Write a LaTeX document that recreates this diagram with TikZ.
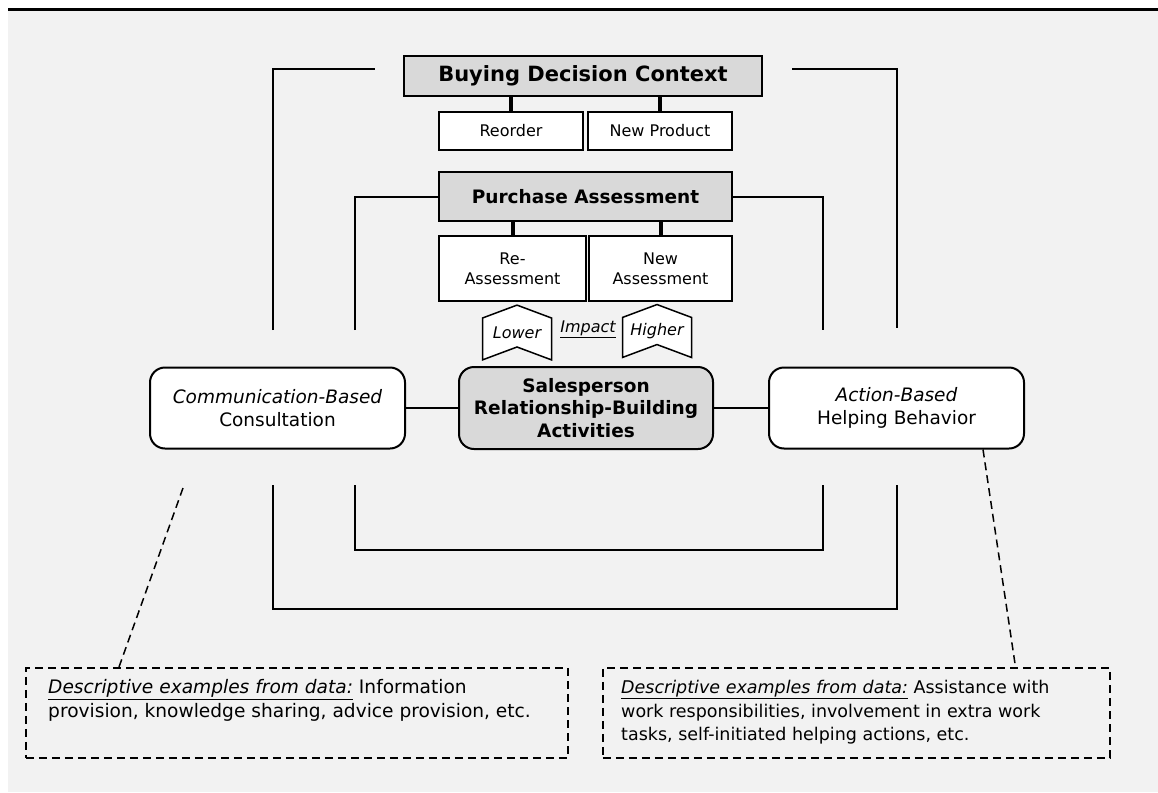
\documentclass[tikz,border=0pt]{standalone}
\usepackage{fontspec}
\setmainfont{DejaVu Sans}
\usetikzlibrary{shapes.symbols, positioning, calc}
\definecolor{pagegray}{RGB}{242,242,242}
\definecolor{boxgray}{RGB}{217,217,217}

\tikzset{
  headbox/.style={draw, line width=2pt, fill=boxgray, inner sep=0pt,
    font=\bfseries\fontsize{18.5}{22}\selectfont},
  subbox/.style={draw, line width=2pt, fill=white, inner sep=0pt, align=center,
    font=\fontsize{16}{20}\selectfont},
  roundbox/.style={draw, line width=2pt, rounded corners=15pt, fill=white, inner sep=0pt,
    align=center, minimum width=255pt, minimum height=81pt,
    font=\fontsize{18.5}{23.5}\selectfont},
  impactsign/.style={signal, signal to=north, signal from=south, signal pointer angle=139,
    draw, line width=1.5pt, fill=white, inner sep=0pt, minimum width=69pt, minimum height=47pt,
    font=\itshape\fontsize{16}{19}\selectfont},
  frameline/.style={line width=2pt},
  stem/.style={line width=4pt},
  noteline/.style={line width=1.5pt, dash pattern=on 8pt off 5pt},
  notebox/.style={draw, line width=1.5pt, dash pattern=on 8pt off 5pt, inner sep=0pt, anchor=north west},
  notetext/.style={inner sep=0pt, anchor=north west, align=left, font=\fontsize{17.5}{23.5}\selectfont}
}

\begin{document}
\begin{tikzpicture}[x=1pt, y=-1pt]
\useasboundingbox (0,0) rectangle (1158,792);
% Page
\fill[white] (0,0) rectangle (1158,792);
\fill[pagegray] (8,11) rectangle (1158,792);
\draw[line width=3.5pt] (8,9.5) -- (1158,9.5);

% Context and assessment boxes
\node[headbox, minimum width=358pt, minimum height=40pt, font=\bfseries\fontsize{21}{25}\selectfont] (bdc) at (583,76) {Buying Decision Context};
\node[subbox, minimum width=144pt, minimum height=38pt] (reorder) at (511,131) {Reorder};
\node[subbox, minimum width=144pt, minimum height=38pt] (newprod) at (660,131) {New Product};
\node[headbox, minimum width=293pt, minimum height=49pt] (pa) at (585.5,196.5) {Purchase Assessment};
\node[subbox, minimum width=147pt, minimum height=65pt] (reassess) at (512.5,268.5) {Re-\\Assessment};
\node[subbox, minimum width=143pt, minimum height=65pt] (newassess) at (660.5,268.5) {New\\Assessment};

\draw[stem] (reorder.north) -- (reorder.north |- bdc.south);
\draw[stem] (newprod.north) -- (newprod.north |- bdc.south);
\draw[stem] (reassess.north) -- (reassess.north |- pa.south);
\draw[stem] (newassess.north) -- (newassess.north |- pa.south);

% Impact
\node[impactsign] (lower) at (517,332.5) {Lower};
\node[impactsign] (higher) at (657,331) {Higher};
\node[font=\itshape\fontsize{16}{19}\selectfont, inner sep=0pt] (impact) at (588,329) {\underline{Impact}};

% Activities
\node[roundbox, fill=boxgray, minimum width=254pt, minimum height=82pt, font=\bfseries\fontsize{18.5}{22.5}\selectfont] (sales) at (586,408) {Salesperson\\Relationship-Building\\Activities};
\node[roundbox] (comm) at (277.5,408) {\textit{Communication-Based}\\Consultation};
\node[roundbox] (action) at (896.5,408) {\textit{Action-Based}\\Helping Behavior};
\draw[frameline] (comm.east) -- (sales.west);
\draw[frameline] (sales.east) -- (action.west);

% Frames
\coordinate (oTL) at (273,330);
\coordinate (oTLend) at (375,69);
\coordinate (oTRend) at (792,69);
\coordinate (oTR) at (897,328);
\coordinate (iTL) at (355,330);
\coordinate (iTR) at (823,330);
\coordinate (oBL) at (273,485);
\coordinate (oBot) at (585,609);
\coordinate (oBR) at (897,485);
\coordinate (iBL) at (355,485);
\coordinate (iBot) at (589,550);
\coordinate (iBR) at (823,485);
\draw[frameline] (oTL) |- (oTLend);
\draw[frameline] (oTRend) -| (oTR);
\draw[frameline] (iTL) |- (pa.west);
\draw[frameline] (pa.east) -| (iTR);
\draw[frameline] (oBL) |- (oBot) -| (oBR);
\draw[frameline] (iBL) |- (iBot) -| (iBR);

% Examples
\node[notebox, minimum width=542pt, minimum height=90pt] (exL) at (25,667) {};
\node[notebox, minimum width=507pt, minimum height=90pt] (exR) at (602,667) {};
\node[notetext, font=\fontsize{18.6}{24}\selectfont] (exLtext) at (48,679.5) {\underline{\textit{Descriptive examples from data:}} Information\\provision, knowledge sharing, advice provision, etc.};
\node[notetext] (exRtext) at (621,680) {\underline{\textit{Descriptive examples from data:}} Assistance with\\work responsibilities, involvement in extra work\\tasks, self-initiated helping actions, etc.};

\coordinate (commnote) at (183,488);
\draw[noteline] (commnote) -- ([xshift=94pt]exL.north west);
\draw[noteline] ([xshift=-42pt]action.south east) -- ([xshift=-95pt]exR.north east);
\end{tikzpicture}
\end{document}
